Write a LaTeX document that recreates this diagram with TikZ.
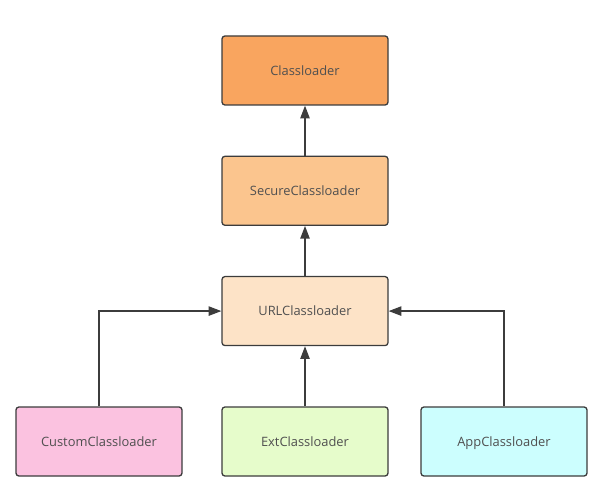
\documentclass[tikz,border=0pt]{standalone}
\usepackage{fontspec}
\setmainfont{Open Sans}
\usepackage{xcolor}
\usetikzlibrary{arrows.meta, positioning}
\definecolor{loaderA}{HTML}{F9A55F}
\definecolor{loaderB}{HTML}{FBC58E}
\definecolor{loaderC}{HTML}{FDE3C7}
\definecolor{loaderD}{HTML}{FBC2E0}
\definecolor{loaderE}{HTML}{E6FCCB}
\definecolor{loaderF}{HTML}{CCFEFE}
\definecolor{edge}{HTML}{3C3C3C}
\definecolor{label}{HTML}{505050}

\begin{document}
\begin{tikzpicture}[
	% Set the default distance between nodes.
	node distance=1.50cm and 1.2cm
	]
	% Define custom styles to make the code cleaner and more reusable.
	\tikzset{
		block/.style={draw=edge, rectangle, rounded corners=2.5pt, minimum height=2.07cm, minimum width=4.98cm, align=center, text height=1.5ex, text depth=0pt, line width=1.1pt, text=label, font=\fontsize{11}{13}\selectfont},
		line/.style={-{Triangle[length=3.8mm, width=2.8mm]}, line width=1.1pt, draw=edge}
	}
	\useasboundingbox (0,0) rectangle (18.39,-14.7);
	
	% === NODES ===
	% Place the nodes for the diagram, from top to bottom.
	
	\node[block, fill=loaderA] (base) at (9.15,-2.115) {Classloader};
	\node[block, fill=loaderB, below=of base] (secure) {SecureClassloader};
	\node[block, fill=loaderC, below=of secure] (url) {URLClassloader};
	\node[block, fill=loaderE] (ext) at (9.15,-13.245) {ExtClassloader};
	\node[block, fill=loaderD] (custom) at (2.97,-13.245) {CustomClassloader};
	\node[block, fill=loaderF] (app) at (15.12,-13.245) {AppClassloader};
	
	% === CONNECTIONS ===
	% Draw the lines and arrows connecting the nodes.
	
	\draw[line] (secure) -- (base);
	\draw[line] (url) -- (secure);
	\draw[line] (ext) -- (url);
	\draw[line] (custom.north) |- (url.west);
	\draw[line] (app.north) |- (url.east);
\end{tikzpicture}
\end{document}
